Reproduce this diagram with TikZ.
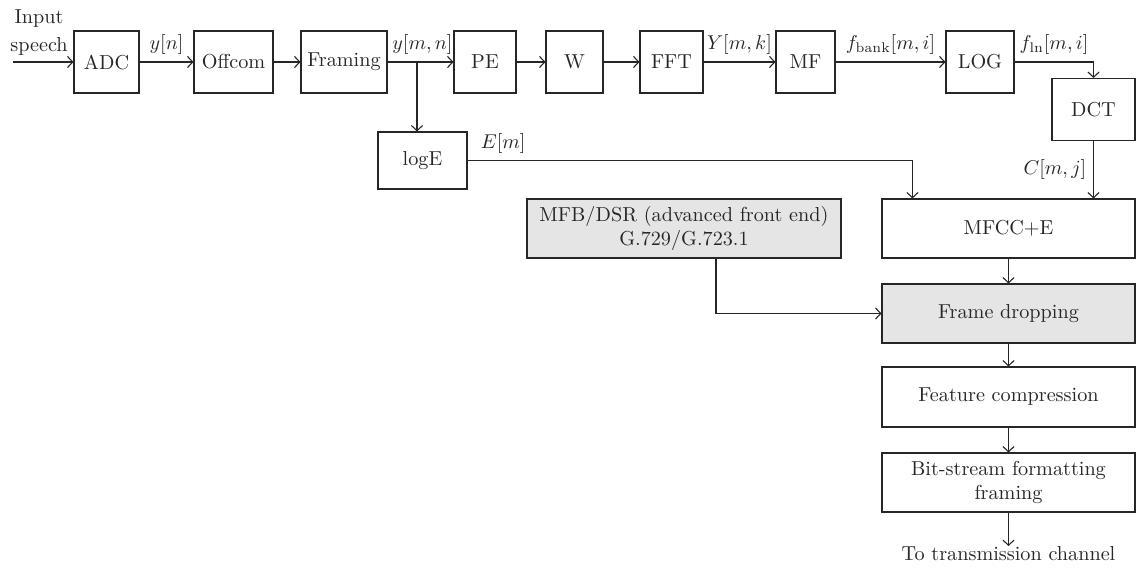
\documentclass[tikz,border=0pt]{standalone}
\usepackage{amsmath}
\usetikzlibrary{calc, arrows.meta}

\begin{document}
\begin{tikzpicture}[x=0.5pt, y=-0.5pt, line width=0.55pt, color=black!85, font=\fontsize{10.1}{12.2}\selectfont,
  >={Straight Barb[length=2.6pt, width=5.6pt]},
  blk/.style={draw, minimum height=31pt, inner sep=2pt, align=center},
  shaded/.style={blk, fill=gray!20},
  wide/.style={minimum width=126.5pt}]
  \useasboundingbox (0,0) rectangle (1136,569);
  % top row: front end
  \node[blk, minimum width=32.5pt] (adc) at (106.5,62) {ADC};
  \node[blk, minimum width=39.5pt] (offcom) at (233.5,62) {Offcom};
  \node[blk, minimum width=43pt] (framing) at (344,62) {Framing};
  \node[blk, minimum width=31pt] (pe) at (485,62) {PE};
  \node[blk, minimum width=28.5pt] (win) at (574.5,62) {W};
  \node[blk, minimum width=31.5pt] (fft) at (671.5,62) {FFT};
  \node[blk, minimum width=29.5pt] (mf) at (805.5,62) {MF};
  \node[blk, minimum width=34pt] (log) at (980,62) {LOG};
  \node[blk, minimum width=41.5pt] (dct) at (1093.5,109.5) {DCT};
  \node[blk, minimum width=44.5pt, minimum height=28.5pt] (loge) at (422.5,160.5) {logE};
  % right column: back end
  \node[blk, wide, minimum height=29.5pt] (mfcc) at (1008.5,228.5) {MFCC+E};
  \node[shaded, minimum width=157pt, minimum height=29.5pt, inner sep=1pt] (mfb) at (684,228.5)
    {MFB/DSR (advanced front end)\\G.729/G.723.1};
  \node[shaded, wide, minimum height=29.5pt] (frame) at (1008.5,313.5) {Frame dropping};
  \node[blk, wide, minimum height=30pt] (feat) at (1008.5,397) {Feature compression};
  \node[blk, wide, minimum height=29.5pt, inner sep=1pt] (bits) at (1008.5,482.5)
    {Bit-stream formatting\\framing};
  \node[inner sep=0pt, anchor=north] (out) at (1008.5,546) {To transmission channel};
  \node[inner sep=0pt, anchor=south, align=center, font=\fontsize{10.1}{14}\selectfont] (inlbl) at (39,56)
    {Input\\speech};
  \coordinate (src) at (13,62);
  \coordinate (tap) at (417,62);
  \coordinate (ejoin) at ([xshift=15.5pt]mfcc.north west);
  \coordinate (mtap) at ([xshift=16pt]mfb.south);
  % connectors
  \draw[->] (src) -- (adc);
  \draw[->] (adc) -- node[above] {$y[n]$} (offcom);
  \draw[->] (offcom) -- (framing);
  \draw[->] (framing) -- node[above, xshift=1pt] {$y[m,n]$} (pe);
  \draw[->] (tap) -- (tap |- loge.north);
  \draw[->] (pe) -- (win);
  \draw[->] (win) -- (fft);
  \draw[->] (fft) -- node[above] {$Y[m,k]$} (mf);
  \draw[->] (mf) -- node[above] {$f_{\mathrm{bank}}[m,i]$} (log);
  \draw[->] (log.east) -| node[pos=0.25, above] {$f_{\mathrm{ln}}[m,i]$} (dct.north);
  \draw[->] (dct.south) -- node[left] {$C[m,j]$} (dct.south |- mfcc.north);
  \draw[->] (loge.east) -| node[pos=0.04, above] {$E[m]$} (ejoin);
  \draw[->] (mtap) |- (frame.west);
  \draw[->] (mfcc) -- (frame);
  \draw[->] (frame) -- (feat);
  \draw[->] (feat) -- (bits);
  \draw[->] (bits) -- (out);
\end{tikzpicture}
\end{document}
